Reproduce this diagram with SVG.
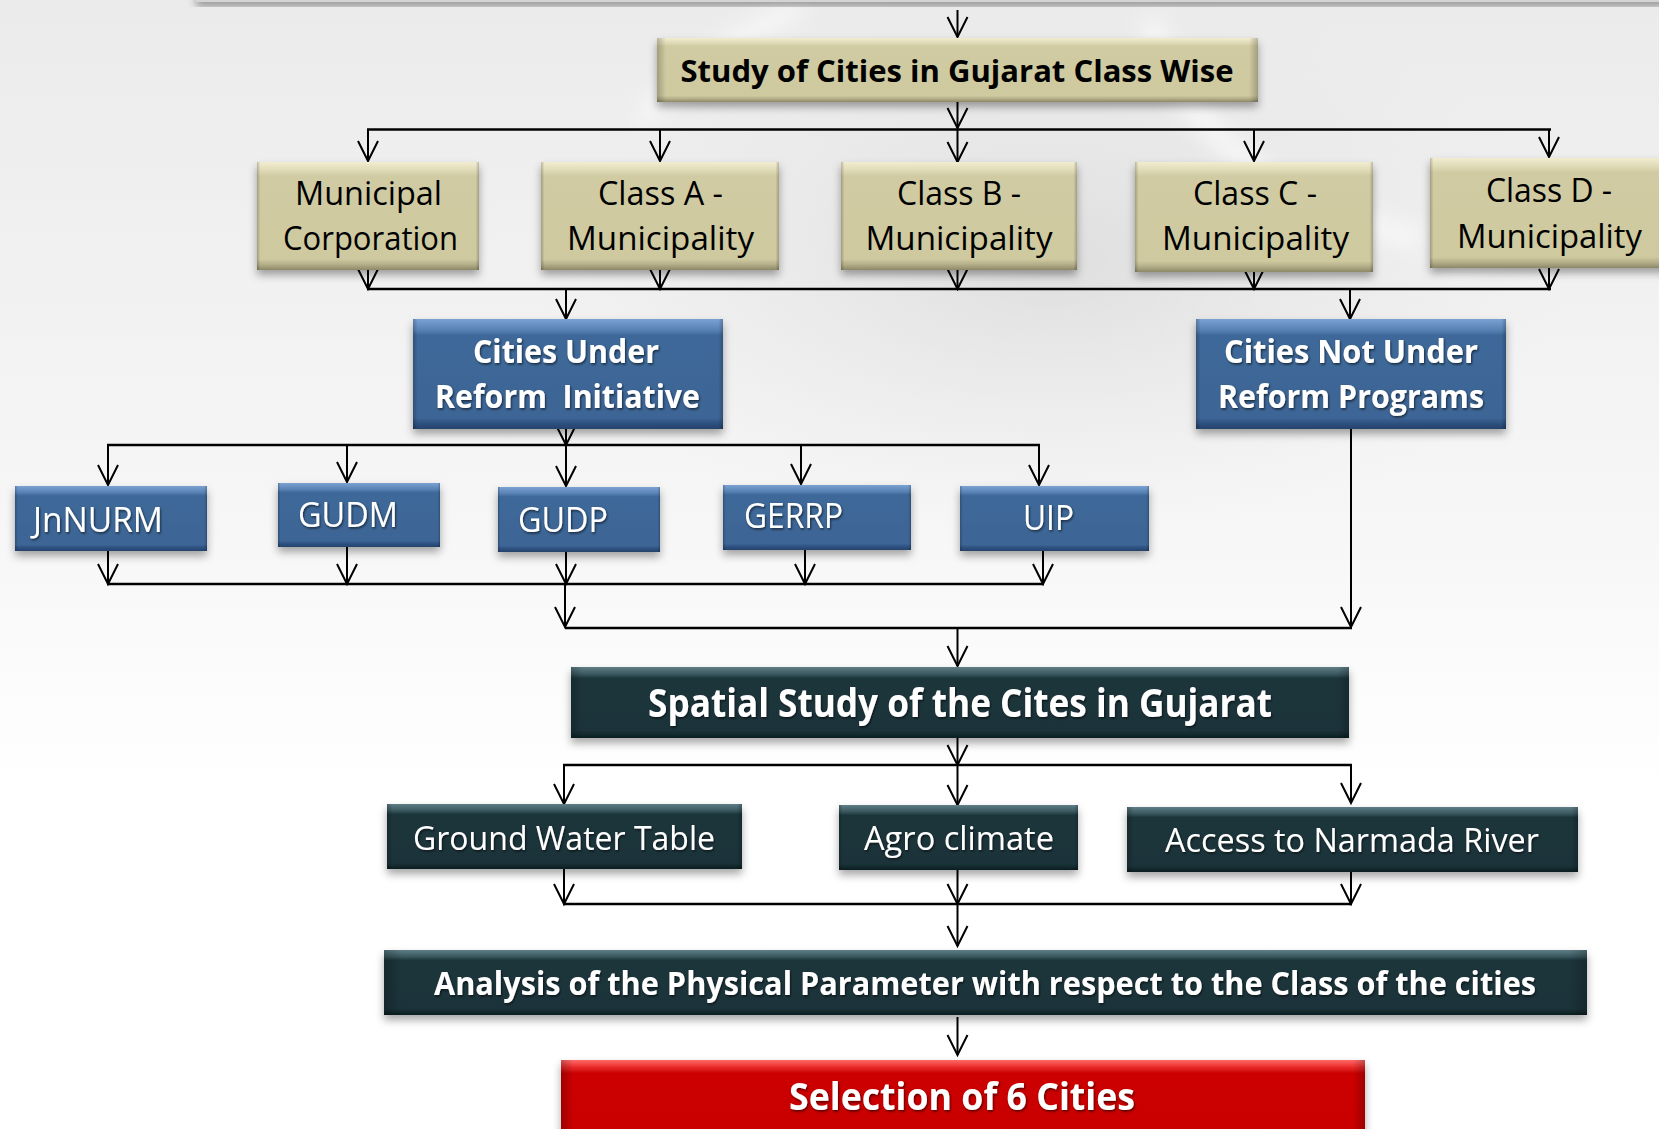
<svg xmlns="http://www.w3.org/2000/svg" width="1659" height="1129" viewBox="0 0 1659 1129">
<defs>
  <linearGradient id="bg" x1="0" y1="0" x2="0" y2="1">
    <stop offset="0" stop-color="#ebebeb"/>
    <stop offset="0.45" stop-color="#f6f6f6"/>
    <stop offset="0.7" stop-color="#ffffff"/>
    <stop offset="1" stop-color="#ffffff"/>
  </linearGradient>
  <radialGradient id="smoke" cx="0.5" cy="0.5" r="0.5">
    <stop offset="0" stop-color="#d6d6d6" stop-opacity="0.7"/>
    <stop offset="1" stop-color="#e6e6e6" stop-opacity="0"/>
  </radialGradient>
  <linearGradient id="tan" x1="0" y1="0" x2="0" y2="1">
    <stop offset="0" stop-color="#f1edd0"/>
    <stop offset="0.09" stop-color="#dcd7b2"/>
    <stop offset="0.13" stop-color="#d0cba2"/>
    <stop offset="0.9" stop-color="#cec99f"/>
    <stop offset="0.95" stop-color="#b3ae88"/>
    <stop offset="1" stop-color="#8c8868"/>
  </linearGradient>
  <linearGradient id="blue" x1="0" y1="0" x2="0" y2="1">
    <stop offset="0" stop-color="#7aa2d2"/>
    <stop offset="0.1" stop-color="#5882b4"/>
    <stop offset="0.15" stop-color="#3e6899"/>
    <stop offset="0.9" stop-color="#3c6595"/>
    <stop offset="0.95" stop-color="#2e5180"/>
    <stop offset="1" stop-color="#24436a"/>
  </linearGradient>
  <linearGradient id="teal" x1="0" y1="0" x2="0" y2="1">
    <stop offset="0" stop-color="#5f7e86"/>
    <stop offset="0.1" stop-color="#3a585f"/>
    <stop offset="0.16" stop-color="#1b353b"/>
    <stop offset="0.9" stop-color="#1a333a"/>
    <stop offset="0.95" stop-color="#13292e"/>
    <stop offset="1" stop-color="#0c1e22"/>
  </linearGradient>
  <linearGradient id="red" x1="0" y1="0" x2="0" y2="1">
    <stop offset="0" stop-color="#ff6a6a"/>
    <stop offset="0.08" stop-color="#ea2a2a"/>
    <stop offset="0.14" stop-color="#cc0606"/>
    <stop offset="1" stop-color="#c80505"/>
  </linearGradient>
  <linearGradient id="edge" x1="0" y1="0" x2="1" y2="0">
    <stop offset="0" stop-color="#000" stop-opacity="0.22"/>
    <stop offset="0.015" stop-color="#000" stop-opacity="0"/>
    <stop offset="0.985" stop-color="#000" stop-opacity="0"/>
    <stop offset="1" stop-color="#000" stop-opacity="0.22"/>
  </linearGradient>
  <filter id="shadow" x="-10%" y="-20%" width="120%" height="150%">
    <feDropShadow dx="0" dy="5" stdDeviation="4" flood-color="#000" flood-opacity="0.35"/>
  </filter>
  <filter id="tshadow" x="-5%" y="-20%" width="110%" height="150%">
    <feDropShadow dx="1" dy="1.5" stdDeviation="1" flood-color="#000" flood-opacity="0.6"/>
  </filter>
  <filter id="blur" x="-20%" y="-20%" width="140%" height="140%">
    <feGaussianBlur stdDeviation="10"/>
  </filter>
  <marker id="arr" markerUnits="userSpaceOnUse" markerWidth="26" markerHeight="26" viewBox="-23 -12 26 24" refX="0" refY="0" orient="auto">
    <path d="M -20,-10 L 0,0 L -20,10" fill="none" stroke="#000" stroke-width="2"/>
  </marker>
  <style>
    .box { filter: url(#shadow); }
    .tan { fill: url(#tan); }
    .blue { fill: url(#blue); }
    .teal { fill: url(#teal); }
    .red { fill: url(#red); }
    .edge { fill: url(#edge); }
    .t { font-family: "Open Sans", "Liberation Sans", sans-serif; }
    .dark { fill: #000; font-size: 32px; }
    .light { fill: #fff; filter: url(#tshadow); }
    .b { font-weight: 700; }
    .c { text-anchor: middle; }
    .arrow { stroke: #000; stroke-width: 2; fill: none; marker-end: url(#arr); }
    .hl { stroke: #000; stroke-width: 2.5; fill: none; }
  </style>
</defs>

<rect x="0" y="0" width="1659" height="1129" fill="url(#bg)"/>
<ellipse cx="1050" cy="260" rx="520" ry="280" fill="url(#smoke)"/>
<g filter="url(#blur)" opacity="0.8">
  <path d="M 640 120 C 700 60, 760 20, 800 10" stroke="#fafafa" stroke-width="18" fill="none"/>
  <path d="M 1150 20 C 1180 120, 1260 200, 1420 240" stroke="#fafafa" stroke-width="22" fill="none"/>
  <path d="M 1450 260 C 1520 230, 1600 200, 1659 190" stroke="#fdfdfd" stroke-width="28" fill="none"/>
</g>

<rect x="196" y="-12" width="1470" height="14" fill="#d4d4d4" filter="url(#shadow)"/>

<g id="connectors">
  <line class="arrow" x1="957.5" y1="10" x2="957.5" y2="37"/>
  <line class="arrow" x1="957.5" y1="97" x2="957.5" y2="128"/>
  <line class="hl" x1="367" y1="129.5" x2="1551" y2="129.5"/>
  <line class="arrow" x1="368" y1="129" x2="368" y2="161"/>
  <line class="arrow" x1="660" y1="129" x2="660" y2="161"/>
  <line class="arrow" x1="957.5" y1="129" x2="957.5" y2="162"/>
  <line class="arrow" x1="1254" y1="129" x2="1254" y2="161"/>
  <line class="arrow" x1="1549" y1="129" x2="1549" y2="157"/>

  <line class="arrow" x1="368" y1="258" x2="368" y2="289"/>
  <line class="arrow" x1="660" y1="258" x2="660" y2="289"/>
  <line class="arrow" x1="957.5" y1="258" x2="957.5" y2="289"/>
  <line class="arrow" x1="1254" y1="258" x2="1254" y2="289"/>
  <line class="arrow" x1="1549" y1="256" x2="1549" y2="289"/>
  <line class="hl" x1="367" y1="289" x2="1551" y2="289"/>
  <line class="arrow" x1="566" y1="289" x2="566" y2="319"/>
  <line class="arrow" x1="1350" y1="289" x2="1350" y2="319"/>

  <line class="arrow" x1="566" y1="417" x2="566" y2="445"/>
  <line class="hl" x1="107" y1="445" x2="1040" y2="445"/>
  <line class="arrow" x1="108" y1="445" x2="108" y2="485"/>
  <line class="arrow" x1="347" y1="445" x2="347" y2="482"/>
  <line class="arrow" x1="566" y1="445" x2="566" y2="486"/>
  <line class="arrow" x1="801" y1="445" x2="801" y2="484"/>
  <line class="arrow" x1="1039" y1="445" x2="1039" y2="485"/>

  <line class="arrow" x1="108" y1="542" x2="108" y2="584"/>
  <line class="arrow" x1="347" y1="544" x2="347" y2="584"/>
  <line class="arrow" x1="566" y1="545" x2="566" y2="584"/>
  <line class="arrow" x1="805" y1="545" x2="805" y2="584"/>
  <line class="arrow" x1="1043" y1="546" x2="1043" y2="584"/>
  <line class="hl" x1="107" y1="584" x2="1044" y2="584"/>
  <line class="arrow" x1="565" y1="584" x2="565" y2="627"/>
  <line class="arrow" x1="1351" y1="418" x2="1351" y2="627"/>
  <line class="hl" x1="565" y1="628" x2="1352" y2="628"/>
  <line class="arrow" x1="957.5" y1="628" x2="957.5" y2="666"/>

  <line class="arrow" x1="957.5" y1="725" x2="957.5" y2="765"/>
  <line class="hl" x1="563" y1="765" x2="1352" y2="765"/>
  <line class="arrow" x1="564" y1="765" x2="564" y2="804"/>
  <line class="arrow" x1="957.5" y1="765" x2="957.5" y2="805"/>
  <line class="arrow" x1="1351" y1="765" x2="1351" y2="803"/>

  <line class="arrow" x1="564" y1="867" x2="564" y2="904"/>
  <line class="arrow" x1="957.5" y1="867" x2="957.5" y2="904"/>
  <line class="arrow" x1="1351" y1="864" x2="1351" y2="904"/>
  <line class="hl" x1="563" y1="904" x2="1352" y2="904"/>
  <line class="arrow" x1="957.5" y1="904" x2="957.5" y2="946"/>
  <line class="arrow" x1="957.5" y1="1017" x2="957.5" y2="1055"/>
</g>

<g id="study">
  <rect class="box tan" x="657" y="38" width="601" height="64"/>
  <rect class="edge" x="657" y="38" width="601" height="64"/>
  <text class="t b c" x="957" y="82" font-size="30" fill="#000" textLength="553" lengthAdjust="spacingAndGlyphs">Study of Cities in Gujarat Class Wise</text>
</g>

<g id="municipal-corporation">
  <rect class="box tan" x="257" y="162" width="222" height="108"/>
  <rect class="edge" x="257" y="162" width="222" height="108"/>
  <text class="t dark c" x="368.5" y="205" textLength="147" lengthAdjust="spacingAndGlyphs">Municipal</text>
  <text class="t dark c" x="370.5" y="250" textLength="175" lengthAdjust="spacingAndGlyphs">Corporation</text>
</g>
<g id="class-a">
  <rect class="box tan" x="541" y="162" width="238" height="108"/>
  <rect class="edge" x="541" y="162" width="238" height="108"/>
  <text class="t dark c" x="660.5" y="205" textLength="125" lengthAdjust="spacingAndGlyphs">Class A -</text>
  <text class="t dark c" x="660.5" y="250" textLength="187" lengthAdjust="spacingAndGlyphs">Municipality</text>
</g>
<g id="class-b">
  <rect class="box tan" x="841" y="162" width="236" height="108"/>
  <rect class="edge" x="841" y="162" width="236" height="108"/>
  <text class="t dark c" x="959" y="205" textLength="124" lengthAdjust="spacingAndGlyphs">Class B -</text>
  <text class="t dark c" x="959" y="250" textLength="187" lengthAdjust="spacingAndGlyphs">Municipality</text>
</g>
<g id="class-c">
  <rect class="box tan" x="1135" y="162" width="238" height="110"/>
  <rect class="edge" x="1135" y="162" width="238" height="110"/>
  <text class="t dark c" x="1255" y="205" textLength="124" lengthAdjust="spacingAndGlyphs">Class C -</text>
  <text class="t dark c" x="1255.5" y="250" textLength="187" lengthAdjust="spacingAndGlyphs">Municipality</text>
</g>
<g id="class-d">
  <rect class="box tan" x="1430" y="158" width="240" height="110"/>
  <rect class="edge" x="1430" y="158" width="240" height="110"/>
  <text class="t dark c" x="1549" y="202" textLength="126" lengthAdjust="spacingAndGlyphs">Class D -</text>
  <text class="t dark c" x="1549.5" y="248" textLength="185" lengthAdjust="spacingAndGlyphs">Municipality</text>
</g>

<g id="cities-under">
  <rect class="box blue" x="413" y="319" width="310" height="110"/>
  <rect class="edge" x="413" y="319" width="310" height="110"/>
  <text class="t b c light" x="566" y="363" font-size="32" textLength="186" lengthAdjust="spacingAndGlyphs">Cities Under</text>
  <text class="t b c light" x="567.5" y="408" font-size="32" textLength="265" lengthAdjust="spacingAndGlyphs" xml:space="preserve">Reform  Initiative</text>
</g>
<g id="cities-not-under">
  <rect class="box blue" x="1196" y="319" width="310" height="110"/>
  <rect class="edge" x="1196" y="319" width="310" height="110"/>
  <text class="t b c light" x="1351" y="363" font-size="32" textLength="254" lengthAdjust="spacingAndGlyphs">Cities Not Under</text>
  <text class="t b c light" x="1351" y="408" font-size="32" textLength="266" lengthAdjust="spacingAndGlyphs">Reform Programs</text>
</g>

<g id="jnnurm">
  <rect class="box blue" x="15" y="486" width="192" height="65"/>
  <rect class="edge" x="15" y="486" width="192" height="65"/>
  <text class="t light" x="33" y="532" font-size="34" textLength="130" lengthAdjust="spacingAndGlyphs">JnNURM</text>
</g>
<g id="gudm">
  <rect class="box blue" x="278" y="483" width="162" height="64"/>
  <rect class="edge" x="278" y="483" width="162" height="64"/>
  <text class="t light" x="298" y="527" font-size="34" textLength="100" lengthAdjust="spacingAndGlyphs">GUDM</text>
</g>
<g id="gudp">
  <rect class="box blue" x="498" y="487" width="162" height="65"/>
  <rect class="edge" x="498" y="487" width="162" height="65"/>
  <text class="t light" x="518" y="532" font-size="34" textLength="90" lengthAdjust="spacingAndGlyphs">GUDP</text>
</g>
<g id="gerrp">
  <rect class="box blue" x="723" y="485" width="188" height="65"/>
  <rect class="edge" x="723" y="485" width="188" height="65"/>
  <text class="t light" x="744" y="528" font-size="34" textLength="99" lengthAdjust="spacingAndGlyphs">GERRP</text>
</g>
<g id="uip">
  <rect class="box blue" x="960" y="486" width="189" height="65"/>
  <rect class="edge" x="960" y="486" width="189" height="65"/>
  <text class="t light" x="1023" y="530" font-size="34" textLength="51" lengthAdjust="spacingAndGlyphs">UIP</text>
</g>

<g id="spatial-study">
  <rect class="box teal" x="571" y="667" width="778" height="71"/>
  <rect class="edge" x="571" y="667" width="778" height="71"/>
  <text class="t b c light" x="960" y="717" font-size="39" textLength="624" lengthAdjust="spacingAndGlyphs">Spatial Study of the Cites in Gujarat</text>
</g>

<g id="ground-water-table">
  <rect class="box teal" x="387" y="804" width="355" height="65"/>
  <rect class="edge" x="387" y="804" width="355" height="65"/>
  <text class="t c light" x="564" y="850" font-size="32" textLength="302" lengthAdjust="spacingAndGlyphs">Ground Water Table</text>
</g>
<g id="agro-climate">
  <rect class="box teal" x="839" y="805" width="239" height="65"/>
  <rect class="edge" x="839" y="805" width="239" height="65"/>
  <text class="t c light" x="959" y="850" font-size="32" textLength="190" lengthAdjust="spacingAndGlyphs">Agro climate</text>
</g>
<g id="narmada">
  <rect class="box teal" x="1127" y="807" width="451" height="65"/>
  <rect class="edge" x="1127" y="807" width="451" height="65"/>
  <text class="t c light" x="1352" y="852" font-size="32" textLength="374" lengthAdjust="spacingAndGlyphs">Access to Narmada River</text>
</g>

<g id="analysis">
  <rect class="box teal" x="384" y="950" width="1203" height="65"/>
  <rect class="edge" x="384" y="950" width="1203" height="65"/>
  <text class="t b c light" x="985" y="995" font-size="32" textLength="1102" lengthAdjust="spacingAndGlyphs">Analysis of the Physical Parameter with respect to the Class of the cities</text>
</g>

<g id="selection">
  <rect class="box red" x="561" y="1060" width="804" height="90"/>
  <rect class="edge" x="561" y="1060" width="804" height="90"/>
  <text class="t b c light" x="962" y="1110" font-size="37" textLength="346" lengthAdjust="spacingAndGlyphs">Selection of 6 Cities</text>
</g>
</svg>
